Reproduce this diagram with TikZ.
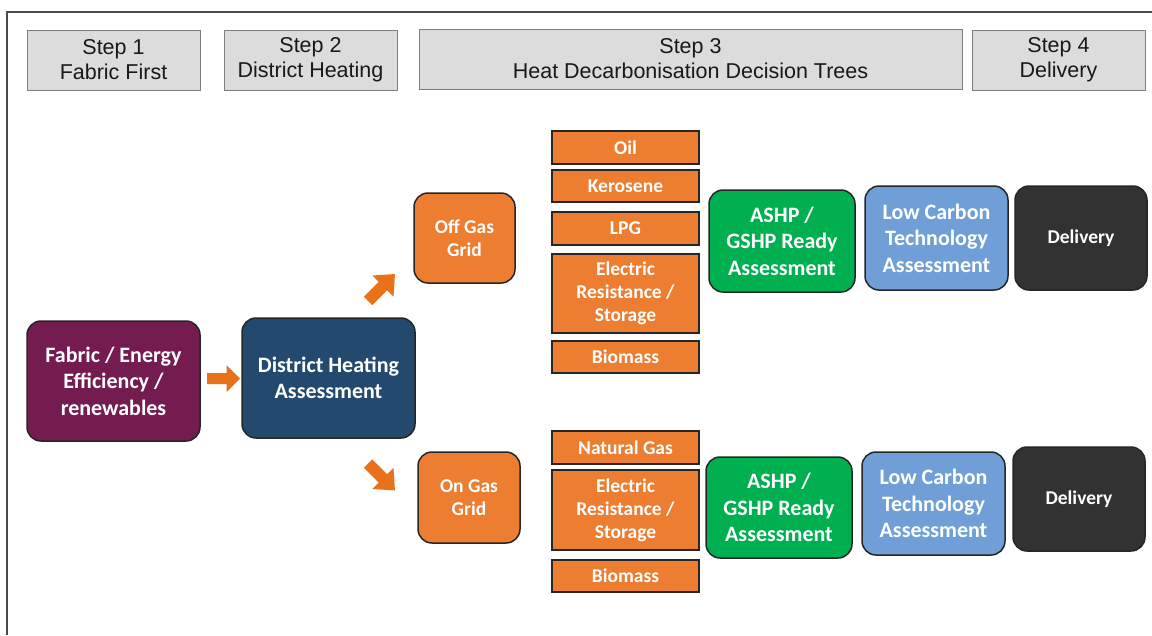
\documentclass[tikz,border=0pt]{standalone}
\usepackage{fontspec}
\setmainfont{Liberation Sans}
\newfontfamily\calib{Carlito}
\definecolor{hdrfill}{HTML}{DCDCDC}
\definecolor{hdrdraw}{HTML}{7F7F7F}
\definecolor{purp}{HTML}{741B50}
\definecolor{dhblue}{HTML}{234A6E}
\definecolor{orng}{HTML}{ED7D31}
\definecolor{arrorng}{HTML}{E8711A}
\definecolor{grn}{HTML}{00B050}
\definecolor{lblue}{HTML}{6F9FD6}
\definecolor{dgrey}{HTML}{323232}
\definecolor{frame}{HTML}{4A4A4A}
\tikzset{
  hdr/.style={draw=hdrdraw, line width=1pt, fill=hdrfill, text=black!90, align=center, inner sep=0pt,
    font=\fontsize{21.5}{25}\selectfont},
  rbox/.style={draw=black!85, line width=1.5pt, rounded corners=14pt, text=white, align=center, inner sep=0pt,
    font=\calib\bfseries\fontsize{22}{26.5}\selectfont},
  sbox/.style={rbox, font=\calib\bfseries\fontsize{19.5}{23}\selectfont},
  fuel/.style={draw=black!85, line width=1.5pt, fill=orng, text=white, align=center, inner sep=0pt,
    minimum width=147pt, font=\calib\bfseries\fontsize{19.5}{23}\selectfont},
  blockarr/.style={fill=arrorng, draw=none}
}
\begin{document}
\begin{tikzpicture}[x=1pt,y=-1pt]
\useasboundingbox (0,0) rectangle (1152,635);
\fill[white] (0,0) rectangle (1152,635);
% frame
\coordinate (ftr) at (1152,12);
\coordinate (ftl) at (7,12);
\coordinate (fbl) at (7,635);
\draw[frame, line width=2pt] (ftr) -- (ftl) -- (fbl);
% headers
\node[hdr, minimum width=173pt, minimum height=60pt] (s1) at (113.5,60) {Step 1\\Fabric First};
\node[hdr, minimum width=173pt, minimum height=60pt] (s2) at (310.5,60) {Step 2\\District Heating};
\node[hdr, minimum width=543pt, minimum height=60pt] (s3) at (690.5,59) {Step 3\\Heat Decarbonisation Decision Trees};
\node[hdr, minimum width=173pt, minimum height=60pt] (s4) at (1058.5,60) {Step 4\\Delivery};
% main boxes
\node[rbox, fill=purp, minimum width=173pt, minimum height=120pt] (fab) at (113.5,381) {Fabric / Energy\\Efficiency /\\renewables};
\node[rbox, fill=dhblue, minimum width=173pt, minimum height=120pt] (dh) at (328.5,378) {District Heating\\Assessment};
\node[sbox, fill=orng, minimum width=101pt, minimum height=90pt] (off) at (464.5,238) {Off Gas\\Grid};
\node[sbox, fill=orng, minimum width=102pt, minimum height=91pt] (on) at (469,497.5) {On Gas\\Grid};
% fuels (off gas)
\node[fuel, minimum height=33pt] (oil) at (625.5,147.5) {Oil};
\node[fuel, minimum height=32pt] (ker) at (625.5,186) {Kerosene};
\node[fuel, minimum height=33pt] (lpg) at (625.5,228.5) {LPG};
\node[fuel, minimum height=79pt] (ele1) at (625.5,293.5) {Electric\\Resistance /\\Storage};
\node[fuel, minimum height=32pt] (bio1) at (625.5,357) {Biomass};
% fuels (on gas)
\node[fuel, minimum height=33pt] (ng) at (625.5,447.5) {Natural Gas};
\node[fuel, minimum height=80pt] (ele2) at (625.5,510) {Electric\\Resistance /\\Storage};
\node[fuel, minimum height=32pt] (bio2) at (625.5,576) {Biomass};
% right side
\node[rbox, fill=grn, minimum width=146pt, minimum height=102pt] (ashp1) at (782,241) {ASHP /\\GSHP Ready\\Assessment};
\node[rbox, fill=lblue, minimum width=143pt, minimum height=104pt] (lc1) at (936.5,238) {Low Carbon\\Technology\\Assessment};
\node[sbox, fill=dgrey, minimum width=132pt, minimum height=104pt] (del1) at (1081,238) {Delivery};
\node[rbox, fill=grn, minimum width=146pt, minimum height=101pt] (ashp2) at (779,507.5) {ASHP /\\GSHP Ready\\Assessment};
\node[rbox, fill=lblue, minimum width=143pt, minimum height=103pt] (lc2) at (933.5,503.5) {Low Carbon\\Technology\\Assessment};
\node[sbox, fill=dgrey, minimum width=132pt, minimum height=104pt] (del2) at (1079,499) {Delivery};
% block arrows
\fill[blockarr, shift={(223.5,378.5)}] (-16.5,-5.5) -- (3,-5.5) -- (3,-13.5) -- (16.5,0) -- (3,13.5) -- (3,5.5) -- (-16.5,5.5) -- cycle;
\fill[blockarr, shift={(381.5,287.5)}, rotate=45] (-19,-6) -- (2,-6) -- (2,-15) -- (19,0) -- (2,15) -- (2,6) -- (-19,6) -- cycle;
\fill[blockarr, shift={(381.5,477)}, rotate=-45] (-19,-6) -- (2,-6) -- (2,-15) -- (19,0) -- (2,15) -- (2,6) -- (-19,6) -- cycle;
\end{tikzpicture}
\end{document}
